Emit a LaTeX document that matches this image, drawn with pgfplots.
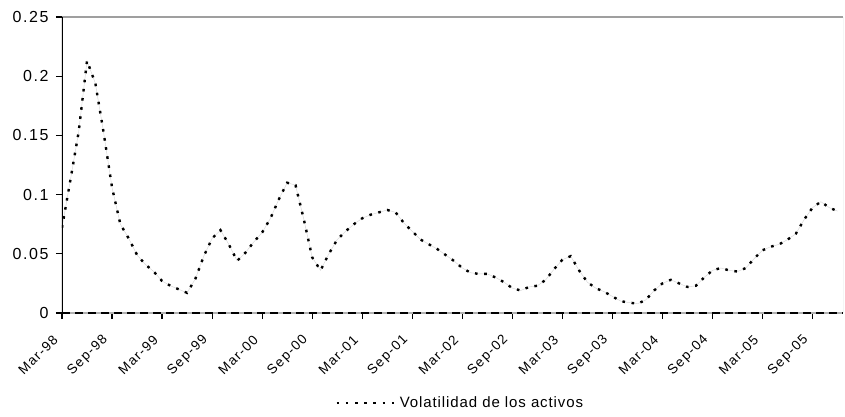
\documentclass[border=0pt]{standalone}
\usepackage{pgfplots}
\usepackage{pgfplotstable}
\pgfplotsset{compat=1.18}
\usepackage{fontspec}
\setmainfont{Liberation Sans}
\newfontfamily\ytickfont[LetterSpace=10]{Liberation Sans}
\newfontfamily\xtickfont[LetterSpace=10]{Liberation Sans}
\newfontfamily\legendfont[LetterSpace=6]{Liberation Sans}

% Monthly asset volatility, month 0 = Mar-98
\pgfplotstableread{
m v
0 0.072
1 0.112
2 0.153
3 0.213
4 0.194
5 0.152
6 0.106
7 0.075
8 0.063
9 0.049
10 0.041
11 0.035
12 0.027
13 0.023
14 0.020
15 0.017
16 0.029
17 0.048
18 0.063
19 0.070
20 0.058
21 0.044
22 0.051
23 0.060
24 0.068
25 0.080
26 0.096
27 0.110
28 0.108
29 0.079
30 0.047
31 0.036
32 0.050
33 0.062
34 0.069
35 0.075
36 0.080
37 0.083
38 0.085
39 0.087
40 0.085
41 0.076
42 0.069
43 0.062
44 0.058
45 0.054
46 0.049
47 0.044
48 0.038
49 0.034
50 0.033
51 0.033
52 0.030
53 0.026
54 0.021
55 0.019
56 0.022
57 0.023
58 0.028
59 0.037
60 0.045
61 0.048
62 0.036
63 0.026
64 0.021
65 0.018
66 0.014
67 0.010
68 0.0088
69 0.0078
70 0.011
71 0.019
72 0.025
73 0.028
74 0.025
75 0.022
76 0.023
77 0.030
78 0.036
79 0.038
80 0.036
81 0.035
82 0.038
83 0.046
84 0.053
85 0.056
86 0.058
87 0.062
88 0.067
89 0.079
90 0.089
91 0.094
92 0.089
93 0.086
}\volatilidad

\begin{document}
\begin{tikzpicture}
\path[use as bounding box] (-62pt,-104pt) rectangle (783pt,313pt);
\begin{axis}[
  at={(0pt,0pt)}, anchor=south west,
  scale only axis,
  width=781pt, height=296pt,
  xmin=0, xmax=93.65,
  ymin=0, ymax=0.25,
  axis line style={draw=none},
  xtick={0,6,...,90},
  xticklabels={Mar-98,Sep-98,Mar-99,Sep-99,Mar-00,Sep-00,Mar-01,Sep-01,Mar-02,Sep-02,Mar-03,Sep-03,Mar-04,Sep-04,Mar-05,Sep-05},
  ytick={0,0.05,0.1,0.15,0.2,0.25},
  yticklabels={0,0.05,0.1,0.15,0.2,0.25},
  yticklabel style={font=\ytickfont\fontsize{16}{18}\selectfont, xshift=-4pt},
  xticklabel style={font=\xtickfont\fontsize{13.5}{15}\selectfont,
    xshift=-4pt, yshift=-16pt, rotate=45, anchor=east},
  xtick pos=bottom, ytick pos=left,
  tick align=outside,
  major tick length=6pt,
  tick style={black, line width=1.2pt},
  legend style={at={(0.51,-0.304)}, anchor=center, draw=none, fill=none,
    font=\legendfont\fontsize{15}{17}\selectfont},
  legend image code/.code={\draw[#1] (0pt,0pt) -- (60pt,0pt);},
]
\addplot[gray!35, line width=0.4pt, forget plot] table[x=m, y=v] {\volatilidad};
\addplot[black, line width=2.4pt, line cap=butt, dash pattern=on 2.6pt off 6.6pt] table[x=m, y=v] {\volatilidad};
\addlegendentry{Volatilidad de los activos}

% frame
\draw[gray!75, line width=1.6pt] (rel axis cs:0,1) -- (rel axis cs:1,1);
\draw[gray!65, line width=1pt] (rel axis cs:1,1) -- (rel axis cs:1,0);
\draw[gray!60, line width=2.6pt] (rel axis cs:0,0) -- (rel axis cs:1,0);
\draw[black, line width=1.8pt, dash pattern=on 8pt off 5pt] (rel axis cs:0,0) -- (rel axis cs:1,0);
\draw[black, line width=1.4pt] (rel axis cs:0,0) -- (rel axis cs:0,1);
\end{axis}
\end{tikzpicture}
\end{document}
